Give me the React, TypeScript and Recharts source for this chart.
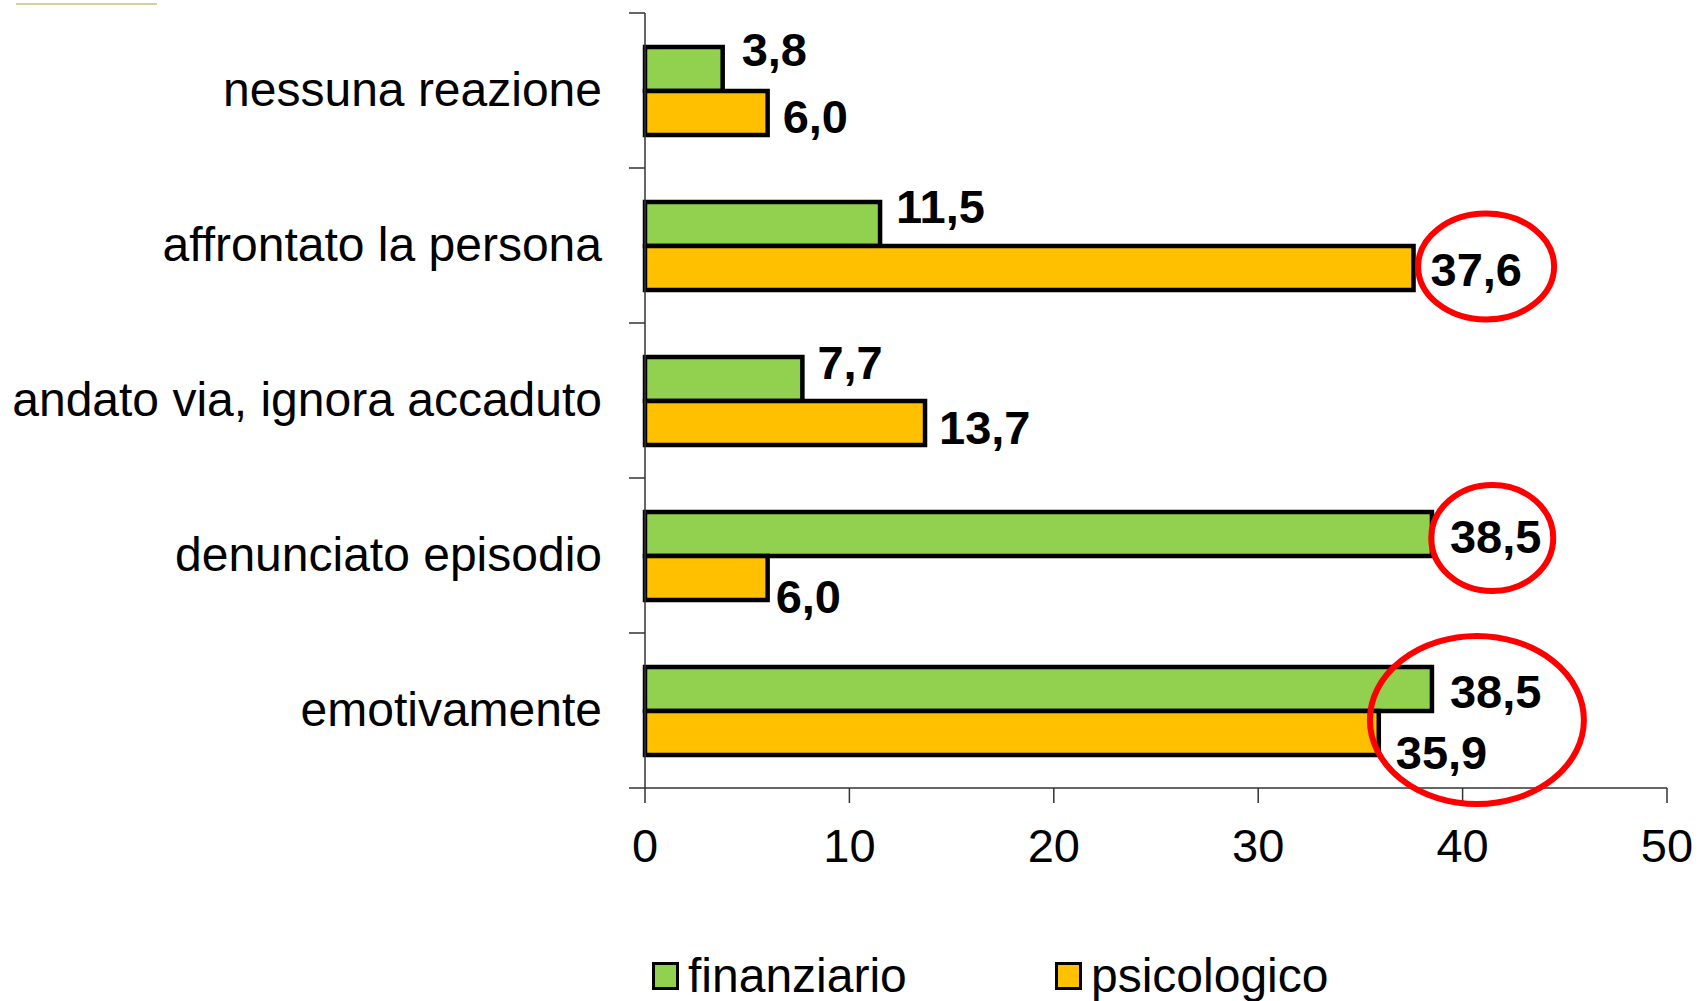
import React from "react";
import { BarChart, Bar, XAxis, YAxis, Legend, LabelList, ReferenceDot } from "recharts";

const categories = [
  "nessuna reazione",
  "affrontato la persona",
  "andato via, ignora accaduto",
  "denunciato episodio",
  "emotivamente",
];
const finanziario = [3.8, 11.5, 7.7, 38.5, 38.5];
const psicologico = [6.0, 37.6, 13.7, 6.0, 35.9];
const xTicks = [0, 10, 20, 30, 40, 50];

const data = categories.map((name, i) => ({
  name,
  finanziario: finanziario[i],
  psicologico: psicologico[i],
}));

const FONT = '"Liberation Sans", Arial, sans-serif';
const W = 1700;
const H = 1001;
const AXIS_X = 645;
const TOP = 13;
const PLOT_BOTTOM = 788;
const HALF_BAND = (PLOT_BOTTOM - TOP) / categories.length / 2;

const COLORS: Record<string, string> = { finanziario: "#92D050", psicologico: "#FFC000" };

// nudges for the value labels, as placed in the original slide
const finShift = [
  { dx: 19, dy: -20 },
  { dx: 16, dy: -18 },
  { dx: 15, dy: -17 },
  { dx: 18, dy: 2 },
  { dx: 18, dy: 2 },
];
const psiShift = [
  { dx: 15, dy: 3 },
  { dx: 17, dy: 1 },
  { dx: 14, dy: 4 },
  { dx: 8, dy: 18 },
  { dx: 17, dy: 19 },
];

// red circles drawn on top of the chart
const highlights = [
  { cat: "affrontato la persona", x: 41.15, dy: 21, rx: 68, ry: 53 },
  { cat: "denunciato episodio", x: 41.45, dy: -17.5, rx: 61, ry: 53 },
  { cat: "emotivamente", x: 40.7, dy: 9.5, rx: 107, ry: 84 },
];

const fmt = (v: number) => v.toFixed(1).replace(".", ",");

const makeLabel = (shifts: { dx: number; dy: number }[]) => (props: any) => {
  const vb = props.viewBox || props;
  const x = vb.x ?? props.x;
  const y = vb.y ?? props.y;
  const width = vb.width ?? props.width;
  const height = vb.height ?? props.height;
  const s = shifts[props.index] || { dx: 16, dy: 0 };
  return (
    <text
      x={x + width + s.dx}
      y={y + height / 2 + s.dy}
      dy="0.36em"
      fontSize={47}
      fontWeight="bold"
      fontFamily={FONT}
      fill="#000"
    >
      {fmt(Number(props.value))}
    </text>
  );
};

const CategoryTick = (props: any) => {
  const { y, payload, index } = props;
  const last = index === categories.length - 1;
  return (
    <g>
      <text x={AXIS_X - 43} y={y} dy="0.33em" textAnchor="end" fontSize={48} fontFamily={FONT} fill="#000">
        {payload.value}
      </text>
      <line x1={AXIS_X - 16} x2={AXIS_X} y1={y - HALF_BAND} y2={y - HALF_BAND} stroke="#333" strokeWidth={1.5} />
      {last && (
        <line x1={AXIS_X - 16} x2={AXIS_X} y1={y + HALF_BAND} y2={y + HALF_BAND} stroke="#333" strokeWidth={1.5} />
      )}
    </g>
  );
};

const LEGEND_LEFT = [652, 1055];

const LegendContent = (props: any) => (
  <div style={{ position: "relative", height: 54, width: W }}>
    {(props.payload || []).map((p: any, i: number) => (
      <div
        key={p.value}
        style={{
          position: "absolute",
          left: LEGEND_LEFT[i],
          top: 0,
          height: 54,
          display: "flex",
          alignItems: "center",
        }}
      >
        <svg width={27} height={28}>
          <rect x={1.5} y={1.5} width={24} height={25} fill={COLORS[p.dataKey] || COLORS[p.value]} stroke="#000" strokeWidth={3} />
        </svg>
        <span style={{ marginLeft: 9, fontSize: 48, fontFamily: FONT, color: "#000", lineHeight: "54px" }}>
          {p.value}
        </span>
      </div>
    ))}
  </div>
);

export default function App() {
  return (
    <div style={{ position: "absolute", left: 0, top: 0, width: W, height: H, overflow: "hidden", background: "#fff" }}>
      <div style={{ position: "absolute", left: 16, top: 3, width: 141, height: 2, background: "#d8cd9c" }} />
      <BarChart
        width={W}
        height={H}
        data={data}
        layout="vertical"
        margin={{ top: TOP, right: 33, left: 0, bottom: 133 }}
        barGap={0}
        barSize={44}
      >
        <XAxis
          type="number"
          domain={[0, 50]}
          ticks={xTicks}
          interval={0}
          height={80}
          axisLine={{ stroke: "#333", strokeWidth: 1.5 }}
          tickLine={{ stroke: "#333", strokeWidth: 1.5 }}
          tickSize={15}
          tickMargin={26}
          tick={{ fontSize: 47, fill: "#000", fontFamily: FONT }}
        />
        <YAxis
          type="category"
          dataKey="name"
          width={AXIS_X}
          axisLine={{ stroke: "#333", strokeWidth: 1.5 }}
          tickLine={false}
          interval={0}
          tick={<CategoryTick />}
        />
        <Legend
          verticalAlign="middle"
          align="center"
          layout="horizontal"
          wrapperStyle={{ left: 0, top: 949, width: W, height: 54 }}
          content={<LegendContent />}
        />
        <Bar dataKey="finanziario" name="finanziario" fill={COLORS.finanziario} stroke="#000" strokeWidth={4.5} isAnimationActive={false}>
          <LabelList dataKey="finanziario" content={makeLabel(finShift)} />
        </Bar>
        <Bar dataKey="psicologico" name="psicologico" fill={COLORS.psicologico} stroke="#000" strokeWidth={4.5} isAnimationActive={false}>
          <LabelList dataKey="psicologico" content={makeLabel(psiShift)} />
        </Bar>
        {highlights.map((h) => (
          <ReferenceDot
            key={h.cat}
            x={h.x}
            y={h.cat}
            r={1}
            shape={(p: any) => (
              <ellipse cx={p.cx} cy={p.cy + h.dy} rx={h.rx} ry={h.ry} fill="none" stroke="#FF0000" strokeWidth={6} />
            )}
          />
        ))}
      </BarChart>
    </div>
  );
}
